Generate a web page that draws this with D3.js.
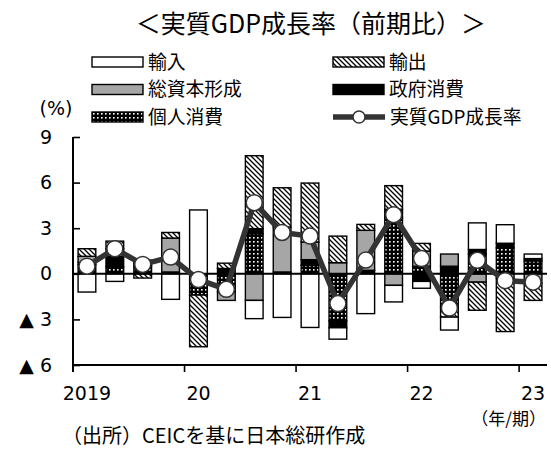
<!DOCTYPE html>
<html><head><meta charset="utf-8">
<script src="https://cdn.jsdelivr.net/npm/d3@7"></script>
<style>body{margin:0;background:#fff}</style>
</head><body>
<svg id="c" width="551" height="449"></svg>
<script>
const quarters = ["2019Q1","2019Q2","2019Q3","2019Q4","2020Q1","2020Q2","2020Q3","2020Q4","2021Q1","2021Q2","2021Q3","2021Q4","2022Q1","2022Q2","2022Q3","2022Q4","2023Q1"];
const xTickLabels = {"2019Q1":"2019","2020Q1":"20","2021Q1":"21","2022Q1":"22","2023Q1":"23"};
const personal   = [0.6, 0.45, 0.5, 0.12, -1.4, -1.2, 2.64, 0, 0.56, -3.1, 0, 3.7, 0.5, -2.2, 1.3, 1.7, 0.85];
const government = [0.15, 0.7, 0.2, 0, 0, 0.35, 0.33, 0.12, 0.37, -0.45, 0.23, 0.55, -0.5, 0.5, 0.3, 0.31, 0.15];
const capital    = [0.4, 0.5, 0.2, 2.23, 0, -0.55, -1.75, 2.96, 1.16, 0.73, 2.63, -0.76, 1.0, 0.8, -0.55, -0.3, -0.6];
const exportsC   = [0.5, 0.5, -0.28, 0.37, -3.4, 0.35, 4.8, 2.58, 3.88, 1.75, 0.39, 1.55, 0.5, -0.65, -1.85, -3.5, -1.15];
const importsC   = [-1.2, -0.5, 0, -1.68, 4.2, 0, -1.2, -2.87, -3.53, -0.75, -2.62, -1.09, -0.45, -0.85, 1.75, 1.22, 0.3];
const gdp        = [0.5, 1.65, 0.62, 1.1, -0.38, -1.02, 4.68, 2.72, 2.48, -1.96, 0.9, 3.89, 1.0, -2.25, 0.89, -0.45, -0.55];
const yTicks = [-6, -3, 0, 3, 6, 9];

const seriesKeys = ["personal","government","capital","exports","imports"];
const seriesNames = {personal:"個人消費", government:"政府消費", capital:"総資本形成", exports:"輸出", imports:"輸入"};
const fills = {personal:"url(#dots)", government:"#000", capital:"#a6a6a6", exports:"url(#hatch)", imports:"#fff"};

const rows = quarters.map((q,i)=>({q, personal:personal[i], government:government[i], capital:capital[i], exports:exportsC[i], imports:importsC[i]}));

const svg = d3.select("#c");
const JP = "'Noto Sans CJK JP', 'Noto Sans', sans-serif";
const NUM = "'DejaVu Sans', sans-serif";

// patterns
const defs = svg.append("defs");
const hp = defs.append("pattern").attr("id","hatch").attr("patternUnits","userSpaceOnUse").attr("width",5).attr("height",5);
hp.append("rect").attr("width",5).attr("height",5).attr("fill","#fff");
hp.append("path").attr("d","M-1,4 l2,2 M0,0 l5,5 M4,-1 l2,2").attr("stroke","#000").attr("stroke-width",1.3);
const dp = defs.append("pattern").attr("id","dots").attr("patternUnits","userSpaceOnUse").attr("width",4).attr("height",4);
dp.append("rect").attr("width",4).attr("height",4).attr("fill","#000");
dp.append("rect").attr("x",1).attr("y",1).attr("width",1.6).attr("height",1.6).attr("fill","#fff");

const x = d3.scaleBand().domain(quarters).range([73,547]).paddingInner(0.365).paddingOuter(0.1825);
const y = d3.scaleLinear().domain([-6,9]).range([365,137]);

// title
svg.append("text").attr("x",311).attr("y",33).attr("text-anchor","middle")
  .attr("font-family",JP).attr("font-size",25).text("＜実質GDP成長率（前期比）＞");

// stacked bars
const stack = d3.stack().keys(seriesKeys).offset(d3.stackOffsetDiverging);
const stacked = stack(rows);
const gBars = svg.append("g");
stacked.forEach(s=>{
  gBars.selectAll(null).data(s.filter(d=>Math.abs(d[1]-d[0])>1e-9)).enter().append("rect")
    .attr("x",d=>x(d.data.q)).attr("width",x.bandwidth())
    .attr("y",d=>y(Math.max(d[0],d[1]))).attr("height",d=>Math.abs(y(d[0])-y(d[1])))
    .attr("fill",fills[s.key]).attr("stroke","#000").attr("stroke-width",1.4);
});

// y axis
const yAxis = d3.axisLeft(y).tickValues(yTicks).tickSize(-7).tickPadding(21)
  .tickFormat(d=> d<0 ? "▲ "+Math.abs(d) : String(d));
const gy = svg.append("g").attr("transform","translate(73,0)").call(yAxis);
gy.select(".domain").attr("stroke","#000").attr("stroke-width",2).attr("d","M0,137V372");
gy.selectAll(".tick line").attr("stroke","#000").attr("stroke-width",1.6);
gy.selectAll(".tick text").attr("font-family",NUM).attr("font-size",19).attr("fill","#000");

// zero line
svg.append("line").attr("x1",73).attr("x2",547).attr("y1",y(0)).attr("y2",y(0)).attr("stroke","#000").attr("stroke-width",2);

// x axis
const step = x.step();
const boundaries = quarters.filter((q,i)=>i>0 && q.endsWith("Q1")).map(q=>x(q)-x.paddingInner()*step/2);
svg.append("line").attr("x1",72).attr("x2",547).attr("y1",365).attr("y2",365).attr("stroke","#000").attr("stroke-width",2);
svg.append("g").selectAll("line").data(boundaries).enter().append("line")
  .attr("x1",d=>d).attr("x2",d=>d).attr("y1",365).attr("y2",372).attr("stroke","#000").attr("stroke-width",1.6);
svg.append("g").selectAll("text").data(quarters.filter(q=>xTickLabels[q])).enter().append("text")
  .attr("x",q=>x(q)+x.bandwidth()/2).attr("y",400).attr("text-anchor","middle")
  .attr("font-family",NUM).attr("font-size",19).text(q=>xTickLabels[q]);

// GDP line
const line = d3.line().x((d,i)=>x(quarters[i])+x.bandwidth()/2).y(d=>y(d));
svg.append("path").datum(gdp).attr("d",line).attr("fill","none").attr("stroke","#333").attr("stroke-width",5.5).attr("stroke-linejoin","round");
svg.append("g").selectAll("circle").data(gdp).enter().append("circle")
  .attr("cx",(d,i)=>x(quarters[i])+x.bandwidth()/2).attr("cy",d=>y(d)).attr("r",8)
  .attr("fill","#fff").attr("stroke","#333").attr("stroke-width",1.5);

// legend
const legendItems = [
  {key:"imports", col:0, row:0},
  {key:"exports", col:1, row:0},
  {key:"capital", col:0, row:1},
  {key:"government", col:1, row:1},
  {key:"personal", col:0, row:2},
  {key:"gdp", col:1, row:2}
];
const colX = [92, 333], rowY = [62, 89.5, 117];
legendItems.forEach(it=>{
  const lx = colX[it.col], ly = rowY[it.row];
  if(it.key==="gdp"){
    svg.append("line").attr("x1",lx).attr("x2",lx+52).attr("y1",ly).attr("y2",ly).attr("stroke","#333").attr("stroke-width",5.5);
    svg.append("circle").attr("cx",lx+26).attr("cy",ly).attr("r",6).attr("fill","#fff").attr("stroke","#333").attr("stroke-width",1.5);
    svg.append("text").attr("x",lx+57).attr("y",ly).attr("dy","0.36em").attr("font-family",JP).attr("font-size",18.8).text("実質GDP成長率");
  } else {
    svg.append("rect").attr("x",lx).attr("y",ly-5).attr("width",51).attr("height",10)
      .attr("fill",fills[it.key]).attr("stroke","#000").attr("stroke-width",1.4);
    svg.append("text").attr("x",lx+56).attr("y",ly).attr("dy","0.36em").attr("font-family",JP).attr("font-size",18.8).text(seriesNames[it.key]);
  }
});

// unit label
svg.append("text").attr("x",56).attr("y",108).attr("dy","0.36em").attr("text-anchor","middle").attr("font-family",NUM).attr("font-size",19).text("(%)");
// period label
svg.append("text").attr("x",546).attr("y",425).attr("text-anchor","end").attr("font-family",JP).attr("font-size",17).text("（年/期）");
// source
svg.append("text").attr("x",62).attr("y",443).attr("font-family",JP).attr("font-size",20).text("（出所）CEICを基に日本総研作成");
</script>
</body></html>
